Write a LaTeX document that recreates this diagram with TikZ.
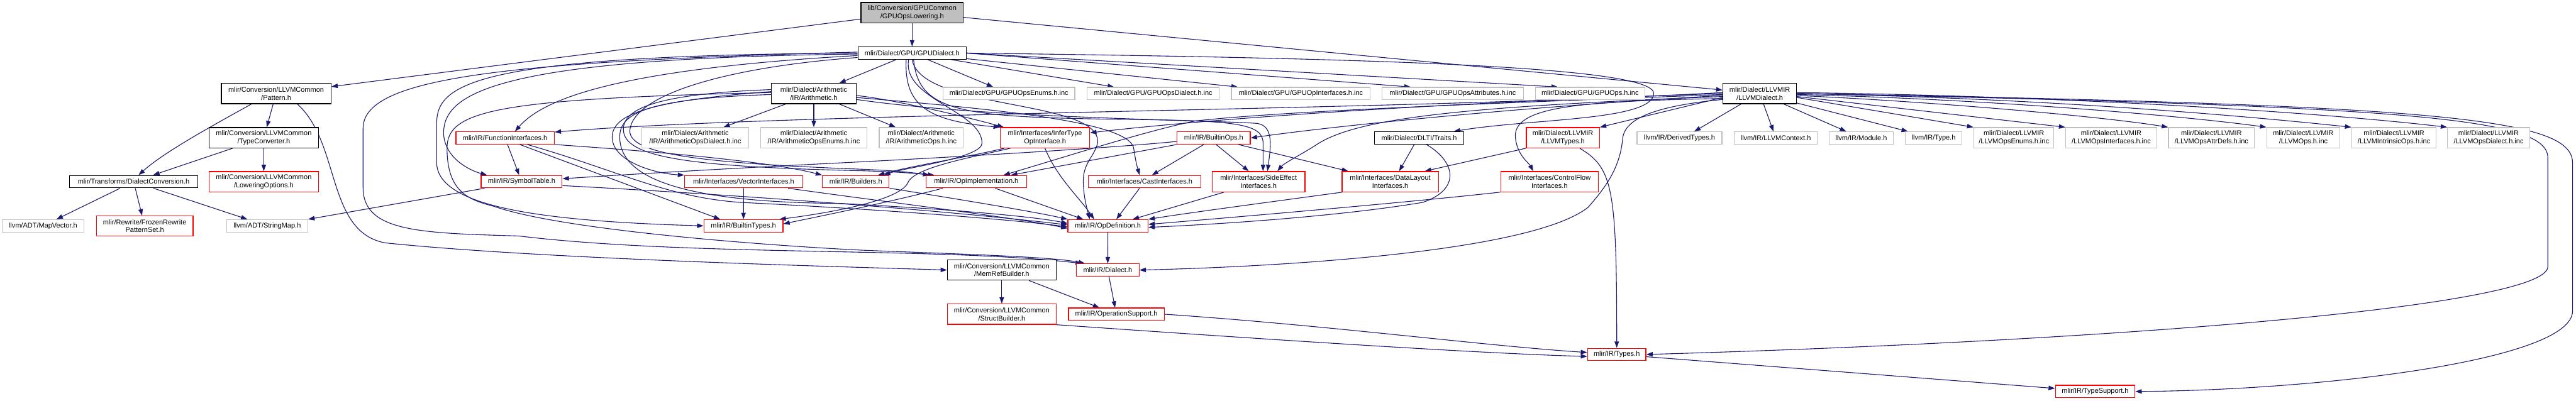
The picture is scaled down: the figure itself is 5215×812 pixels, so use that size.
\documentclass[tikz,border=0pt]{standalone}
\usepackage{fontspec}
\setmainfont{Liberation Sans}
\usetikzlibrary{arrows.meta}
\definecolor{edgecol}{RGB}{25,25,112}
\definecolor{greyb}{RGB}{191,191,191}
\definecolor{rootfill}{RGB}{191,191,191}
\pgfdeclarelayer{bg}
\pgfsetlayers{bg,main}
\begin{document}
\begin{tikzpicture}[x=1pt,y=-1pt,
  bx/.style={draw, line width=1.6pt, inner sep=0pt, align=center, fill=white, font=\fontsize{14}{16}\selectfont},
  blk/.style={bx, draw=black},
  rd/.style={bx, draw=red},
  gr/.style={bx, draw=greyb},
  edg/.style={draw=edgecol, line width=1.4pt, -{Triangle[length=13pt,width=9pt]}}]
\useasboundingbox (0,0) rectangle (5215,812);
% ---- nodes ----
\node[bx, fill=rootfill, draw=black, minimum width=207pt, minimum height=41pt] (root) at (1846.5,25.5) {lib/Conversion/GPUCommon\\/GPUOpsLowering.h};
\node[blk, minimum width=219pt, minimum height=25pt] (gpud) at (1846.5,107.5) {mlir/Dialect/GPU/GPUDialect.h};
\node[blk, minimum width=222pt, minimum height=41pt] (pattern) at (559,189.5) {mlir/Conversion/LLVMCommon\\/Pattern.h};
\node[blk, minimum width=171pt, minimum height=41pt] (arith) at (1647.5,189.5) {mlir/Dialect/Arithmetic\\/IR/Arithmetic.h};
\node[blk, minimum width=149pt, minimum height=41pt] (llvmd) at (3562.5,189.5) {mlir/Dialect/LLVMIR\\/LLVMDialect.h};
\node[gr, minimum width=267pt, minimum height=25pt] (gpuenums) at (2042.5,189.5) {mlir/Dialect/GPU/GPUOpsEnums.h.inc};
\node[gr, minimum width=267pt, minimum height=25pt] (gpudial) at (2334.5,189.5) {mlir/Dialect/GPU/GPUOpsDialect.h.inc};
\node[gr, minimum width=281pt, minimum height=25pt] (gpuopif) at (2633.5,189.5) {mlir/Dialect/GPU/GPUOpInterfaces.h.inc};
\node[gr, minimum width=286pt, minimum height=25pt] (gpuattr) at (2941,189.5) {mlir/Dialect/GPU/GPUOpsAttributes.h.inc};
\node[gr, minimum width=222pt, minimum height=25pt] (gpuops) at (3219,189.5) {mlir/Dialect/GPU/GPUOps.h.inc};
\node[blk, minimum width=222pt, minimum height=41pt] (typeconv) at (534,279) {mlir/Conversion/LLVMCommon\\/TypeConverter.h};
\node[rd, minimum width=199pt, minimum height=25pt] (funcif) at (1022.5,279.5) {mlir/IR/FunctionInterfaces.h};
\node[gr, minimum width=217pt, minimum height=41pt] (arithdial) at (1407.5,279) {mlir/Dialect/Arithmetic\\/IR/ArithmeticOpsDialect.h.inc};
\node[gr, minimum width=215pt, minimum height=41pt] (arithenums) at (1647.5,279) {mlir/Dialect/Arithmetic\\/IR/ArithmeticOpsEnums.h.inc};
\node[gr, minimum width=170pt, minimum height=41pt] (arithops) at (1865,279) {mlir/Dialect/Arithmetic\\/IR/ArithmeticOps.h.inc};
\node[rd, minimum width=181pt, minimum height=41pt] (infer) at (2115.5,279) {mlir/Interfaces/InferType\\OpInterface.h};
\node[rd, minimum width=148pt, minimum height=25pt] (builtinops) at (2457,279.5) {mlir/IR/BuiltinOps.h};
\node[blk, minimum width=180pt, minimum height=25pt] (dlti) at (2873,279.5) {mlir/Dialect/DLTI/Traits.h};
\node[rd, minimum width=148pt, minimum height=41pt] (llvmtypes) at (3164,279) {mlir/Dialect/LLVMIR\\/LLVMTypes.h};
\node[gr, minimum width=172pt, minimum height=25pt] (derived) at (3400,279.5) {llvm/IR/DerivedTypes.h};
\node[gr, minimum width=168pt, minimum height=25pt] (llvmctx) at (3595,279.5) {llvm/IR/LLVMContext.h};
\node[gr, minimum width=130pt, minimum height=25pt] (module) at (3768,279.5) {llvm/IR/Module.h};
\node[gr, minimum width=115pt, minimum height=25pt] (type) at (3914.5,279.5) {llvm/IR/Type.h};
\node[gr, minimum width=162pt, minimum height=41pt] (llvmenums) at (4077,279) {mlir/Dialect/LLVMIR\\/LLVMOpsEnums.h.inc};
\node[gr, minimum width=184pt, minimum height=41pt] (llvmif) at (4274,279) {mlir/Dialect/LLVMIR\\/LLVMOpsInterfaces.h.inc};
\node[gr, minimum width=174pt, minimum height=41pt] (llvmattr) at (4477,279) {mlir/Dialect/LLVMIR\\/LLVMOpsAttrDefs.h.inc};
\node[gr, minimum width=148pt, minimum height=41pt] (llvmops) at (4663,279) {mlir/Dialect/LLVMIR\\/LLVMOps.h.inc};
\node[gr, minimum width=171pt, minimum height=41pt] (llvmintr) at (4846.5,279) {mlir/Dialect/LLVMIR\\/LLVMIntrinsicOps.h.inc};
\node[gr, minimum width=166pt, minimum height=41pt] (llvmdial) at (5038,279) {mlir/Dialect/LLVMIR\\/LLVMOpsDialect.h.inc};
\node[blk, minimum width=259pt, minimum height=25pt] (dconv) at (270.5,368) {mlir/Transforms/DialectConversion.h};
\node[rd, minimum width=222pt, minimum height=41pt] (lowering) at (534,368) {mlir/Conversion/LLVMCommon\\/LoweringOptions.h};
\node[rd, minimum width=164pt, minimum height=25pt] (symtab) at (1056,368) {mlir/IR/SymbolTable.h};
\node[rd, minimum width=239pt, minimum height=25pt] (vecif) at (1505.5,368) {mlir/Interfaces/VectorInterfaces.h};
\node[rd, minimum width=135pt, minimum height=25pt] (builders) at (1732.5,368) {mlir/IR/Builders.h};
\node[rd, minimum width=203pt, minimum height=25pt] (opimpl) at (1976.5,368) {mlir/IR/OpImplementation.h};
\node[rd, minimum width=228pt, minimum height=25pt] (castif) at (2317,368) {mlir/Interfaces/CastInterfaces.h};
\node[rd, minimum width=188pt, minimum height=41pt] (sideeff) at (2548,368) {mlir/Interfaces/SideEffect\\Interfaces.h};
\node[rd, minimum width=195pt, minimum height=41pt] (datalayout) at (2814.5,368) {mlir/Interfaces/DataLayout\\Interfaces.h};
\node[rd, minimum width=198pt, minimum height=41pt] (ctrlflow) at (3137,368) {mlir/Interfaces/ControlFlow\\Interfaces.h};
\node[gr, minimum width=166pt, minimum height=25pt] (mapvec) at (87,457.5) {llvm/ADT/MapVector.h};
\node[rd, minimum width=196pt, minimum height=41pt] (frozen) at (293,458) {mlir/Rewrite/FrozenRewrite\\PatternSet.h};
\node[gr, minimum width=164pt, minimum height=25pt] (strmap) at (541,457.5) {llvm/ADT/StringMap.h};
\node[rd, minimum width=160pt, minimum height=25pt] (builtintypes) at (1505,457.5) {mlir/IR/BuiltinTypes.h};
\node[rd, minimum width=162pt, minimum height=25pt] (opdef) at (2243,457.5) {mlir/IR/OpDefinition.h};
\node[blk, minimum width=220pt, minimum height=41pt] (memref) at (2028,547) {mlir/Conversion/LLVMCommon\\/MemRefBuilder.h};
\node[rd, minimum width=127pt, minimum height=25pt] (dialect) at (2242.5,547) {mlir/IR/Dialect.h};
\node[rd, minimum width=220pt, minimum height=41pt] (structb) at (2028,636.5) {mlir/Conversion/LLVMCommon\\/StructBuilder.h};
\node[rd, minimum width=194pt, minimum height=25pt] (opsupport) at (2260,636.5) {mlir/IR/OperationSupport.h};
\node[rd, minimum width=118pt, minimum height=25pt] (types) at (3273,718) {mlir/IR/Types.h};
\node[rd, minimum width=161pt, minimum height=25pt] (typesupport) at (4241.5,793) {mlir/IR/TypeSupport.h};
% ---- edges ----
\begin{pgfonlayer}{bg}
\fill[white] (0,0) rectangle (5215,812);
% root
\draw[edg] (root) -- (gpud);
\draw[edg] (root) -- (pattern);
\draw[edg] (root) -- (llvmd);
% pattern
\draw[edg] ([xshift=-50pt]pattern.south) .. controls (420,260) and (330,310) .. ([xshift=10pt]dconv.north);
\draw[edg] ([xshift=-6pt]pattern.south) -- ([xshift=6pt]typeconv.north);
\draw[edg] ([xshift=43pt]pattern.south) .. controls (690,290) and (660,470) .. (780,492) .. controls (1100,525) and (1700,540) .. (memref.west);
% typeconv, dconv
\draw[edg] (typeconv) -- (dconv);
\draw[edg] (typeconv) -- (lowering);
\draw[edg] (dconv) -- (mapvec);
\draw[edg] (dconv) -- (frozen);
\draw[edg] (dconv) -- (strmap);
% memref, structb, opsupport, dialect, types
\draw[edg] (memref) -- (structb);
\draw[edg] (memref) -- (opsupport);
\draw[edg] (structb.south east) .. controls (2600,690) and (3000,716) .. ([yshift=-4pt]types.west);
\draw[edg] (opsupport.east) .. controls (2700,660) and (3000,700) .. ([yshift=4pt]types.west);
\draw[edg] (dialect) -- (opsupport);
\draw[edg] (opdef) -- (dialect);
\draw[edg] (types) -- (typesupport);
\draw[edg] (llvmd.east) .. controls (4900,215) and (5158,240) .. (5158,320) -- (5158,540) .. controls (5158,620) and (4300,690) .. (types.east);
\draw[edg] (llvmd.east) .. controls (4950,212) and (5208,240) .. (5208,330) -- (5208,630) .. controls (5208,730) and (4700,790) .. (typesupport.east);
\draw[edg] ([xshift=34pt]llvmtypes.south) .. controls (3265,340) and (3273,380) .. (types.north);
% gpud
\draw[edg] (gpud) -- (gpuenums);
\draw[edg] (gpud) -- (gpudial);
\draw[edg] (gpud) -- (gpuopif);
\draw[edg] (gpud.east) -- ([xshift=-85pt]gpuattr.north);
\draw[edg] (gpud.east) -- ([xshift=-65pt]gpuops.north);
\draw[edg] (gpud) -- (arith);
\draw[edg] ([yshift=-5pt]gpud.west) .. controls (1250,140) and (1100,200) .. ([xshift=20pt]funcif.north);
\draw[edg] ([yshift=-2pt]gpud.west) .. controls (1000,118) and (898,190) .. (898,270) .. controls (900,320) and (950,345) .. ([xshift=-70pt]symtab.north);
\draw[edg] (gpud.west) .. controls (960,112) and (884,170) .. (884,250) -- (884,330) .. controls (886,420) and (1100,448) .. (builtintypes.west);
\draw[edg] ([yshift=2pt]gpud.west) .. controls (1000,125) and (735,160) .. (735,260) -- (735,380) .. controls (735,470) and (850,472) .. (1050,478) .. controls (1400,520) and (1900,500) .. ([xshift=-52pt]dialect.north);
\draw[edg] ([yshift=-9pt]gpud.west) .. controls (1480,135) and (1280,190) .. (1275,265) .. controls (1275,310) and (1400,330) .. (1750,343) .. controls (1820,346) and (1850,350) .. ([xshift=-95pt]opimpl.north);
\draw[edg] ([xshift=-7pt]gpud.south) .. controls (1825,200) and (1988,225) .. (1988,290) .. controls (1988,320) and (1830,340) .. ([xshift=57pt]builders.north);
\draw[edg] ([xshift=-12pt]gpud.south) .. controls (1830,215) and (1880,245) .. (infer.north west);
\draw[edg] ([xshift=3pt]gpud.south) .. controls (1860,230) and (1950,238) .. (2300,242) .. controls (2500,245) and (2557,250) .. (2557,290) -- ([xshift=9pt]sideeff.north);
\draw[edg] (gpud.south) .. controls (1865,225) and (2232,200) .. (2222,290) .. controls (2214,320) and (2192,330) .. (2193,370) .. controls (2194,400) and (2200,420) .. ([xshift=-37pt]opdef.north);
\draw[edg] (gpud.east) .. controls (2800,118) and (3352,135) .. (3348,190) .. controls (3344,245) and (3100,240) .. ([xshift=70pt]dlti.north);
% arith
\draw[edg] (arith) -- (arithdial);
\draw[edg] (arith) -- (arithenums);
\draw[edg] (arith) -- (arithops);
\draw[edg] ([yshift=-4pt]arith.east) .. controls (1800,200) and (1950,235) .. ([xshift=8pt]infer.north west);
\draw[edg] ([yshift=-8pt]arith.east) .. controls (2000,220) and (2285,245) .. (2295,300) .. controls (2300,330) .. ([xshift=-10pt]castif.north);
\draw[edg] ([yshift=-12pt]arith.east) .. controls (2000,240) and (2450,243) .. (2545,250) .. controls (2580,255) and (2572,300) .. ([xshift=18pt]sideeff.north);
\draw[edg] ([yshift=4pt]arith.west) .. controls (1300,205) and (1232,235) .. (1240,285) .. controls (1248,330) and (1330,352) .. (vecif.north west);
\draw[edg] ([yshift=2pt]arith.west) .. controls (1000,200) and (905,225) .. (905,300) .. controls (905,390) and (950,405) .. (1000,418) .. controls (1150,470) and (1600,500) .. (1750,507) .. controls (1950,515) and (2130,520) .. ([xshift=-46pt]dialect.north);
\draw[edg] ([yshift=8pt]arith.west) .. controls (1330,190) and (1262,220) .. (1262,262) .. controls (1262,320) and (1400,338) .. (1750,346) .. controls (1820,348) and (1860,352) .. ([xshift=-85pt]opimpl.north);
\draw[edg] ([yshift=-2pt]arith.west) .. controls (1290,200) and (1250,235) .. (1255,285) .. controls (1262,360) and (1380,410) .. (1700,412) .. controls (1950,425) and (2100,440) .. ([yshift=5pt]opdef.west);
% funcif
\draw[edg] (funcif) -- (symtab);
\draw[edg] (funcif.south east) .. controls (1300,305) and (1550,325) .. (builders.north west);
\draw[edg] ([xshift=30pt]funcif.south) -- ([xshift=-47pt]builtintypes.north);
\draw[edg] ([xshift=45pt]funcif.south) .. controls (1250,345) and (1350,400) .. (1500,410) .. controls (1800,425) and (2050,445) .. ([yshift=-2pt]opdef.west);
% symtab
\draw[edg] ([yshift=-8pt]symtab.east) .. controls (1500,395) and (1900,425) .. ([yshift=2pt]opdef.west);
\draw[edg] ([xshift=-75pt]symtab.south) -- (strmap.north east);
% vecif
\draw[edg] (vecif) -- (builtintypes);
\draw[edg] ([xshift=90pt]vecif.south) .. controls (1800,410) and (2050,440) .. ([yshift=-5pt]opdef.west);
% builders
\draw[edg] (builders.south east) .. controls (1950,405) and (2100,430) .. (opdef.north west);
% opimpl
\draw[edg] ([xshift=38pt]opimpl.south) -- ([xshift=-50pt]opdef.north);
\draw[edg] ([xshift=-68pt]opimpl.south) .. controls (1800,410) and (1650,440) .. ([yshift=4pt]builtintypes.east);
% infer
\draw[edg] ([xshift=-70pt]infer.south) .. controls (1960,320) and (1850,340) .. (1838,370) .. controls (1820,410) and (1650,435) .. ([xshift=-8pt]builtintypes.north east);
\draw[edg] ([xshift=-82pt]infer.south) .. controls (1950,320) and (1850,335) .. ([xshift=45pt]builders.north);
\draw[edg] (infer.south) .. controls (2140,360) and (2185,400) .. ([xshift=-28pt]opdef.north);
% castif, sideeff, datalayout, ctrlflow, dlti, llvmtypes
\draw[edg] ([xshift=-10pt]castif.south) -- ([xshift=17pt]opdef.north);
\draw[edg] ([xshift=-70pt]sideeff.south) -- ([xshift=50pt]opdef.north);
\draw[edg] ([xshift=-97pt]datalayout.south) .. controls (2550,412) and (2400,432) .. (opdef.north east);
\draw[edg] (ctrlflow.south west) .. controls (2850,410) and (2500,440) .. ([yshift=3pt]opdef.east);
\draw[edg] ([xshift=-10pt]dlti.south) -- ([xshift=18pt]datalayout.north);
\draw[edg] ([xshift=15pt]dlti.south) .. controls (2950,330) and (2955,385) .. (2880,410) .. controls (2700,440) and (2450,455) .. ([yshift=-3pt]opdef.east);
\draw[edg] (llvmtypes.south west) -- ([xshift=70pt]datalayout.north);
% builtinops
\draw[edg] ([yshift=-7pt]builtinops.west) .. controls (2250,300) and (1900,320) .. (1700,330) .. controls (1400,345) and (1200,358) .. ([yshift=6pt]symtab.east);
\draw[edg] ([xshift=-20pt]builtinops.south) -- ([xshift=15pt]castif.north);
\draw[edg] ([xshift=5pt]builtinops.south) -- ([xshift=-20pt]sideeff.north);
\draw[edg] ([xshift=50pt]builtinops.south) -- ([xshift=-85pt]datalayout.north);
\draw[edg] (builtinops.south west) -- ([xshift=70pt]opimpl.north);
% llvmd
\draw[edg] (llvmd) -- (llvmctx);
\draw[edg] (llvmd) -- (module);
\draw[edg] (llvmd) -- (type);
\draw[edg] ([yshift=-8pt]llvmd.east) -- (llvmenums.north west);
\draw[edg] ([yshift=-6pt]llvmd.east) -- (llvmif.north west);
\draw[edg] ([yshift=-4pt]llvmd.east) .. controls (3900,205) and (4250,235) .. (llvmattr.north west);
\draw[edg] ([yshift=-2pt]llvmd.east) .. controls (4000,200) and (4400,232) .. (llvmops.north west);
\draw[edg] ([yshift=0pt]llvmd.east) .. controls (4100,198) and (4500,230) .. (llvmintr.north west);
\draw[edg] ([yshift=2pt]llvmd.east) .. controls (4200,195) and (4700,228) .. (llvmdial.north west);
\draw[edg] ([xshift=-38pt]llvmd.south) -- ([xshift=30pt]derived.north);
\draw[edg] ([yshift=-8pt]llvmd.west) -- (llvmtypes.north east);
\draw[edg] ([yshift=-4pt]llvmd.west) .. controls (3100,215) and (2700,255) .. (builtinops.east);
\draw[edg] (llvmd.west) .. controls (3000,205) and (2500,235) .. ([yshift=10pt]infer.east);
\draw[edg] ([yshift=2pt]llvmd.west) .. controls (2800,225) and (1600,228) .. ([yshift=12pt]funcif.east);
\draw[edg] ([yshift=-2pt]llvmd.west) .. controls (3000,210) and (2600,225) .. (2420,245) .. controls (2320,265) and (2150,320) .. ([xshift=55pt]opimpl.north);
\draw[edg] ([yshift=-6pt]llvmd.west) .. controls (3000,215) and (2760,235) .. (2670,290) .. controls (2640,310) and (2600,330) .. ([xshift=38pt]sideeff.north);
\draw[edg] ([yshift=-10pt]llvmd.west) .. controls (3200,205) and (3060,215) .. (3068,280) .. controls (3072,315) and (3095,330) .. ([xshift=-33pt]ctrlflow.north);
\draw[edg] ([yshift=-12pt]llvmd.west) .. controls (3350,215) and (3290,240) .. (3285,280) .. controls (3280,340) and (3250,380) .. (3215,420) .. controls (3100,510) and (2600,540) .. (dialect.east);
\end{pgfonlayer}
\end{tikzpicture}
\end{document}
